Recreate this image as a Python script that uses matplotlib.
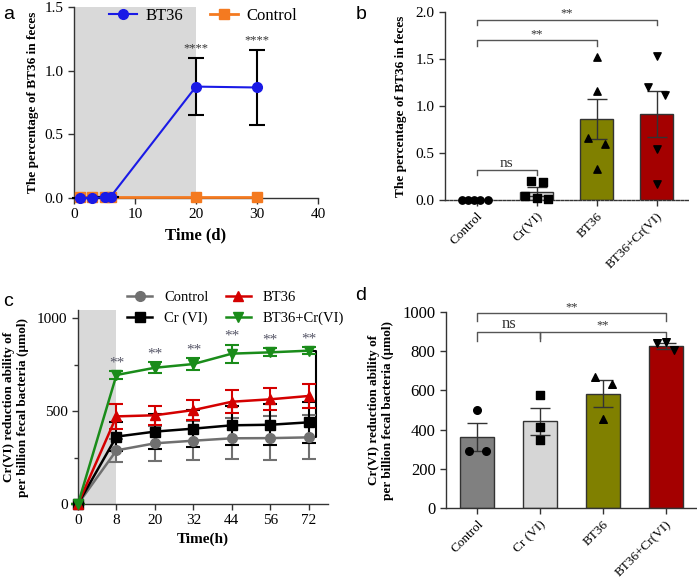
import matplotlib
matplotlib.use("Agg")
import matplotlib.pyplot as plt
from matplotlib.lines import Line2D
import numpy as np

plt.rcParams["font.family"] = ["Liberation Serif", "DejaVu Serif"]
plt.rcParams["mathtext.fontset"] = "stix"

# ---- panel a: BT36 percentage in feces over time ----
a_days = [1, 3, 5, 6, 20, 30]
a_bt36 = [0.0, 0.0, 0.005, 0.01, 0.875, 0.868]
a_bt36_err = [0.0, 0.0, 0.0, 0.0, 0.225, 0.295]
a_control = [0.005, 0.005, 0.005, 0.005, 0.005, 0.005]

# ---- panel b: BT36 percentage per group ----
b_groups = ["Control", "Cr(VI)", "BT36", "BT36+Cr(VI)"]
b_means = [0.0, 0.09, 0.86, 0.91]
b_sem = [0.0, 0.045, 0.215, 0.245]
b_points = [
    [0.0, 0.0, 0.0, 0.0, 0.0],
    [0.20, 0.19, 0.04, 0.02, 0.01],
    [1.52, 1.16, 0.66, 0.60, 0.33],
    [1.53, 1.20, 1.12, 0.54, 0.17],
]
b_jitter = [
    [-0.25, -0.15, -0.05, 0.05, 0.18],
    [-0.10, 0.10, -0.20, 0.0, 0.18],
    [0.0, 0.0, -0.14, 0.14, 0.0],
    [0.0, -0.14, 0.14, 0.0, 0.0],
]

# ---- panel c: Cr(VI) reduction over time ----
c_hours = ["0", "8", "20", "32", "44", "56", "72"]
c_control = [0, 289, 327, 341, 354, 355, 359]
c_control_err = [0, 60, 95, 105, 110, 118, 119]
c_cr = [0, 363, 390, 406, 424, 427, 440]
c_cr_err = [0, 80, 95, 100, 105, 110, 110]
c_bt36 = [0, 472, 478, 506, 551, 564, 582]
c_bt36_err = [0, 67, 50, 54, 63, 59, 64]
c_combo = [0, 695, 734, 754, 810, 817, 826]
c_combo_err = [0, 22, 30, 32, 48, 22, 20]

# ---- panel d: Cr(VI) reduction per group ----
d_groups = ["Control", "Cr (VI)", "BT36", "BT36+Cr(VI)"]
d_means = [362, 443, 584, 828]
d_sem = [71, 68, 68, 15]
d_points = [
    [501, 292, 292],
    [576, 413, 345],
    [667, 632, 452],
    [840, 845, 806],
]
d_jitter = [
    [0.0, -0.13, 0.14],
    [0.0, 0.0, 0.0],
    [-0.12, 0.15, 0.0],
    [-0.13, 0.0, 0.13],
]

BAR_COLORS_B = ["#d6d6d6", "#d6d6d6", "#808000", "#a40000"]
BAR_COLORS_D = ["#808080", "#d6d6d6", "#808000", "#a40000"]
MARKERS = ["o", "s", "^", "v"]
YLAB_C = "Cr(VI) reduction ability of\nper billion fecal bacteria (μmol)"

fig = plt.figure(figsize=(6.97, 5.8), dpi=100)


def style_axes(ax):
    for s in ("top", "right"):
        ax.spines[s].set_visible(False)
    for s in ("left", "bottom"):
        ax.spines[s].set_linewidth(1.0)
        ax.spines[s].set_color("#333333")
    ax.tick_params(direction="out", length=4, width=1.0, labelsize=11,
                   color="#333333")


def bracket(ax, x1, x2, y, h, text, fs=10, color="#555555"):
    ax.plot([x1, x1, x2, x2], [y - h, y, y, y - h], color=color, lw=1.0,
            clip_on=False)
    ax.text((x1 + x2) / 2, y, text, ha="center", va="bottom", fontsize=fs,
            color="#333333")


# ================= a =================
ax = fig.add_axes([0.1062, 0.6586, 0.35, 0.3293])
style_axes(ax)
ax.axvspan(0, 20, color="#d9d9d9", zorder=0, lw=0)
ax.plot(a_days, a_control, color="#f47a20", marker="s", ms=7, lw=2,
        clip_on=False, zorder=3)
ax.errorbar(a_days, a_bt36, yerr=a_bt36_err, color="#1a1ae6", marker="o",
            ms=7, lw=1.5, ecolor="black", elinewidth=1.5, capsize=6,
            capthick=1.5, clip_on=False, zorder=4)
for d, v, e in zip(a_days, a_bt36, a_bt36_err):
    if v > 0.5:
        ax.text(d, v + e + 0.03, "****", ha="center", va="bottom",
                fontsize=9, color="#333333")
ax.set_xlim(0, 40)
ax.set_ylim(0, 1.5)
ax.set_xticks([0, 10, 20, 30, 40])
ax.set_yticks([0, 0.5, 1.0, 1.5])
ax.set_yticklabels(["0.0", "0.5", "1.0", "1.5"])
ax.set_xlabel("Time (d)", fontsize=12, fontweight="bold")
ax.set_ylabel("The percentage of BT36 in feces", fontsize=9.5,
              fontweight="bold", labelpad=4)
leg_a = [Line2D([], [], color="#1a1ae6", marker="o", ms=7, lw=1.5),
         Line2D([], [], color="#f47a20", marker="s", ms=7, lw=2)]
ax.legend(leg_a, ["BT36", "Control"], loc="center", ncol=2, frameon=False,
          fontsize=12, bbox_to_anchor=(0.53, 0.955), handlelength=1.7,
          columnspacing=1.6, handletextpad=0.5)

# ================= b =================
ax = fig.add_axes([0.6385, 0.6552, 0.3486, 0.3241])
style_axes(ax)
xb = np.arange(len(b_groups))
ax.bar(xb, b_means, width=0.55, color=BAR_COLORS_B, edgecolor="#333333",
       lw=1.0, zorder=2)
ax.errorbar(xb, b_means, yerr=b_sem, fmt="none", ecolor="#333333",
            elinewidth=1.0, capsize=7, capthick=1.0, zorder=3)
for i in range(len(b_groups)):
    ax.scatter(np.array(b_jitter[i]) + i, b_points[i], marker=MARKERS[i],
               s=28, color="black", zorder=4, clip_on=False)
ax.spines["bottom"].set_linestyle((0, (2, 1.2)))
ax.set_xlim(-0.53, 3.52)
ax.set_ylim(0, 2.0)
ax.set_yticks([0, 0.5, 1.0, 1.5, 2.0])
ax.set_yticklabels(["0.0", "0.5", "1.0", "1.5", "2.0"])
ax.set_xticks(xb)
ax.set_xticklabels(b_groups, rotation=45, ha="right", rotation_mode="anchor",
                   fontsize=9.5)
ax.set_ylabel("The percentage of BT36 in feces", fontsize=9.5,
              fontweight="bold", labelpad=6)
bracket(ax, 0, 1, 0.32, 0.05, "ns", fs=11)
bracket(ax, 0, 2, 1.70, 0.06, "**", fs=9)
bracket(ax, 0, 3, 1.92, 0.06, "**", fs=9)

# ================= c =================
ax = fig.add_axes([0.1119, 0.1310, 0.3587, 0.3345])
style_axes(ax)
xc = np.arange(len(c_hours))
ax.axvspan(0, 1, color="#d9d9d9", zorder=0, lw=0)
series_c = [
    ("Control", c_control, c_control_err, "#707070", "o"),
    ("Cr (VI)", c_cr, c_cr_err, "black", "s"),
    ("BT36", c_bt36, c_bt36_err, "#d40000", "^"),
    ("BT36+Cr(VI)", c_combo, c_combo_err, "#1a8c1a", "v"),
]
handles = {}
for name, vals, err, col, mk in series_c:
    ax.errorbar(xc, vals, yerr=err, color=col, marker=mk, ms=7, lw=1.8,
                elinewidth=1.5, capsize=5, capthick=1.5, clip_on=False,
                zorder=3)
    handles[name] = Line2D([], [], color=col, marker=mk, ms=7, lw=1.8)
for x, v, e in zip(xc[1:], c_combo[1:], c_combo_err[1:]):
    ax.text(x, v + e + 10, "**", ha="center", va="bottom", fontsize=11,
            color="#555566")
# vertical bracket at 72 h
bx = xc[-1] + 0.18
ax.plot([xc[-1], bx, bx, xc[-1]], [c_combo[-1], c_combo[-1], c_control[-1],
        c_control[-1]], color="black", lw=1.5, clip_on=False, zorder=2)
ax.set_xlim(0, 6.5)
ax.set_ylim(0, 1045)
ax.set_xticks(xc)
ax.set_xticklabels(c_hours)
ax.set_yticks([0, 500, 1000])
ax.set_yticks([250, 750], minor=True)
ax.tick_params(which="minor", direction="out", length=3, width=1.0,
               color="#333333")
ax.set_xlabel("Time(h)", fontsize=11, fontweight="bold")
ax.set_ylabel(YLAB_C, fontsize=9.5, fontweight="bold", labelpad=6)
order = ["Control", "Cr (VI)", "BT36", "BT36+Cr(VI)"]
ax.legend([handles[k] for k in order], order, loc="center", ncol=2,
          frameon=False, fontsize=10.5, bbox_to_anchor=(0.63, 1.01),
          handlelength=1.7, columnspacing=1.2, labelspacing=0.5)

# ================= d =================
ax = fig.add_axes([0.6399, 0.1241, 0.3601, 0.3379])
style_axes(ax)
xd = np.arange(len(d_groups))
ax.bar(xd, d_means, width=0.54, color=BAR_COLORS_D, edgecolor="#333333",
       lw=1.0, zorder=2)
ax.errorbar(xd, d_means, yerr=d_sem, fmt="none", ecolor="#333333",
            elinewidth=1.0, capsize=7, capthick=1.0, zorder=3)
for i in range(len(d_groups)):
    ax.scatter(np.array(d_jitter[i]) + i, d_points[i], marker=MARKERS[i],
               s=30, color="black", zorder=4)
ax.set_xlim(-0.5, 3.5)
ax.set_ylim(0, 1000)
ax.set_yticks([0, 200, 400, 600, 800, 1000])
ax.set_xticks(xd)
ax.set_xticklabels(d_groups, rotation=45, ha="right", rotation_mode="anchor",
                   fontsize=9.5)
ax.tick_params(axis="y", labelsize=12)
ax.set_ylabel(YLAB_C, fontsize=9.5, fontweight="bold", labelpad=6)
bracket(ax, 0, 1, 900, 50, "ns", fs=12)
bracket(ax, 1, 3, 900, 30, "**", fs=9)
bracket(ax, 0, 3, 993, 40, "**", fs=9)

# panel letters
for letter, x, y in [("a", 0.005, 0.975), ("b", 0.51, 0.975),
                     ("c", 0.005, 0.48), ("d", 0.51, 0.49)]:
    fig.text(x, y, letter, fontsize=14, family="Liberation Sans",
             ha="left", va="center")

fig.savefig("out.png", dpi=100)
